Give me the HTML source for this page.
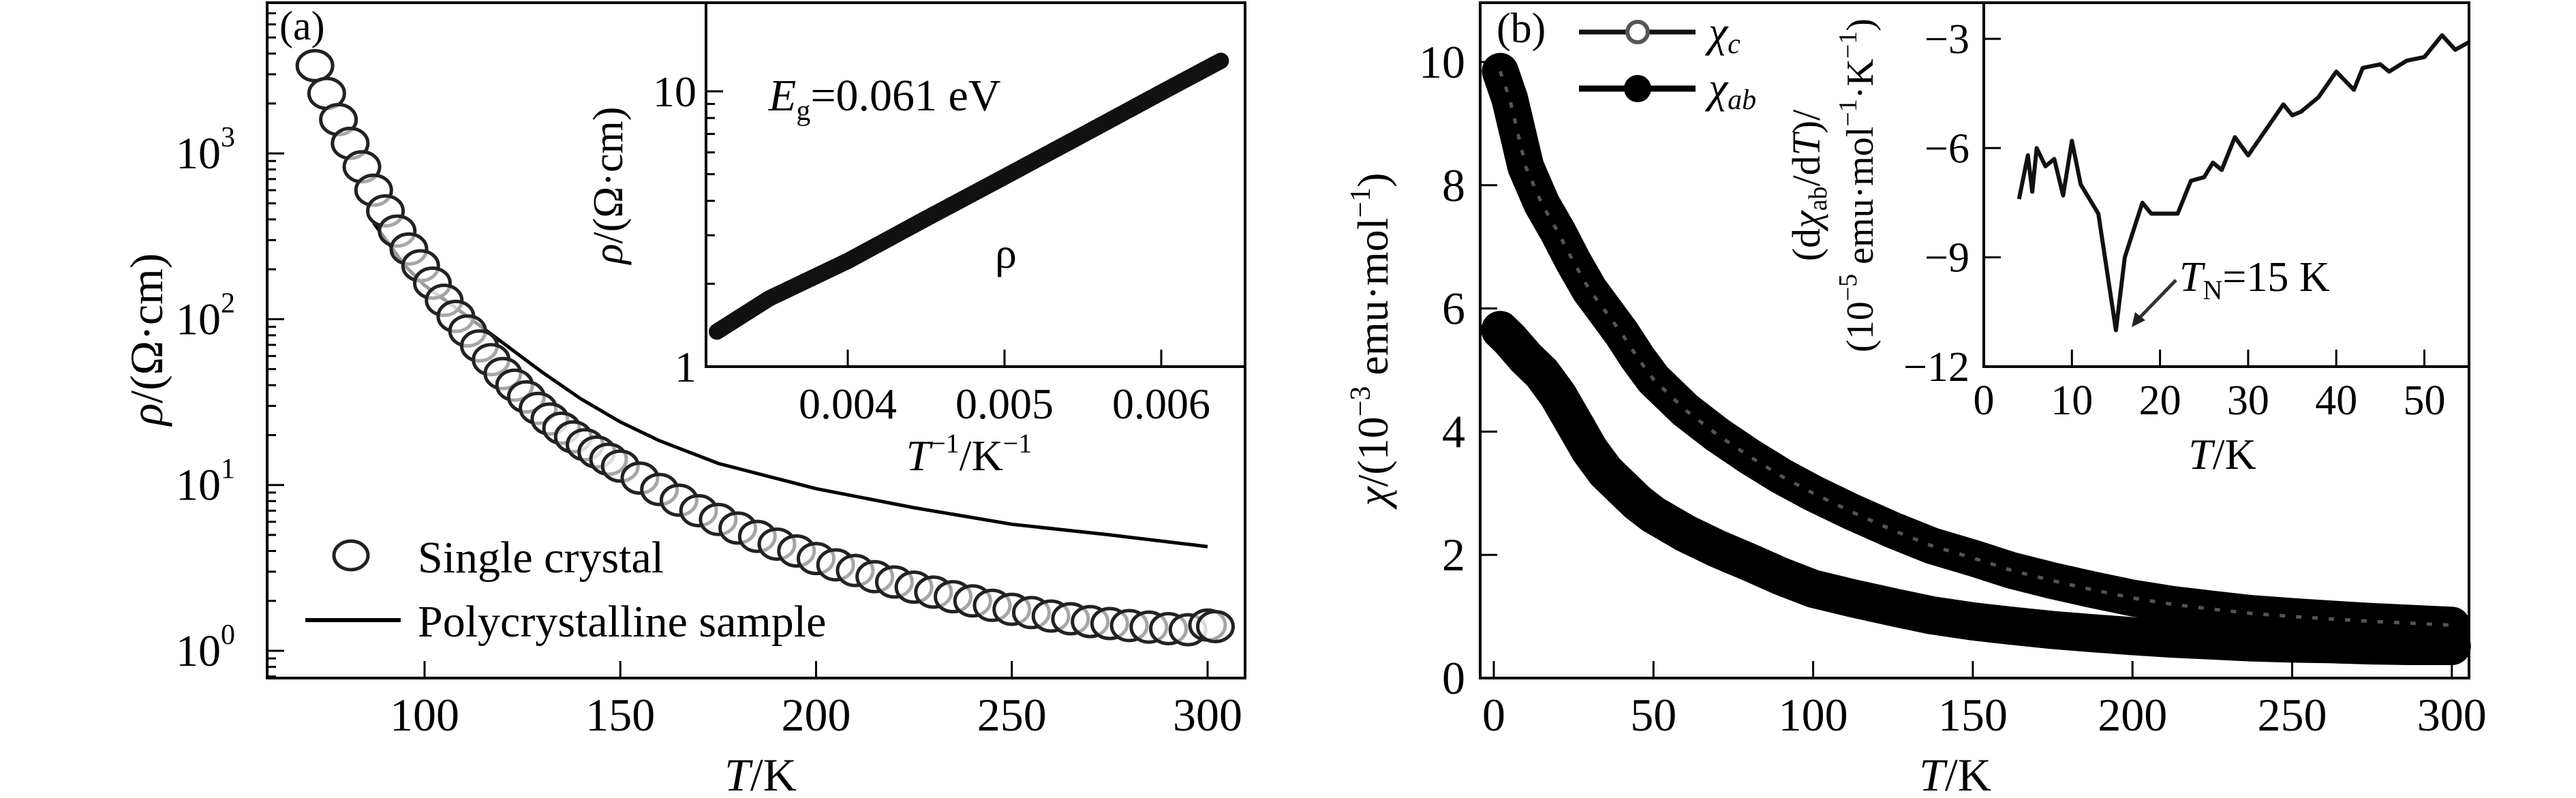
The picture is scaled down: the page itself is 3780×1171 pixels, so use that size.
<!DOCTYPE html>
<html><head><meta charset="utf-8"><style>
html,body{margin:0;padding:0;background:#fff}
svg{display:block}
text{font-family:"Liberation Serif",serif;fill:#000}
</style></head><body>
<svg id="fig" width="3780" height="1171" viewBox="0 0 3780 1171" xmlns="http://www.w3.org/2000/svg">
<g id="gA"></g>
<g id="gAi"></g>
<g id="gB"></g>
<g id="gBi"></g>
</svg>
<script>
// Panel a data
const crystalT=[72,75,78,81,84,87,90,93,96,99,102,105,108,111,114,117,120,123,126,129,132,135,138,141,144,147,150,155,160,165,170,175,180,185,190,195,200,205,210,215,220,225,230,235,240,245,250,255,260,265,270,275,280,285,290,295,300,302];
const crystalRho=[3380,2300,1600,1150,830,600,450,340,265,210,165,130,104,85,69,57,47,40,34,29,25,22,19.5,17.5,15.8,14.3,13,11,9.4,8.1,7,6.2,5.5,4.9,4.4,4.0,3.6,3.3,3.05,2.8,2.6,2.42,2.26,2.12,2.0,1.88,1.78,1.7,1.62,1.56,1.5,1.46,1.42,1.39,1.36,1.34,1.43,1.40];
const polyT=[87,95,100,110,120,130,140,150,160,175,200,225,250,275,300];
const polyRho=[380,210,160,108,72,48,33,24,18.5,13.5,9.5,7.3,5.8,5.0,4.25];
const aXTicks=[100,150,200,250,300];
const aYTicks=[0,1,2,3];
// Panel a inset
const insetInvT=[0.003165,0.0035,0.004,0.0045,0.005,0.0055,0.006,0.00638];
const insetRho=[1.34,1.77,2.42,3.45,4.89,6.95,9.9,12.9];
const aiXTicks=[0.004,0.005,0.006];
// Panel b
const chiT=[2,5,10,15,20,25,30,35,40,45,50,60,70,80,90,100,112,125,137,150,162,175,187,200,212,225,237,250,262,275,287,300];
const chiC=[9.85,9.4,8.3,7.7,7.25,6.75,6.3,5.95,5.6,5.2,4.85,4.35,3.95,3.6,3.28,3.0,2.7,2.4,2.15,1.95,1.75,1.58,1.44,1.3,1.2,1.12,1.05,1.0,0.96,0.92,0.89,0.86];
const chiAB=[5.65,5.5,5.2,4.95,4.6,4.15,3.7,3.35,3.1,2.85,2.65,2.35,2.1,1.88,1.65,1.45,1.3,1.15,1.02,0.92,0.85,0.78,0.73,0.68,0.64,0.61,0.58,0.56,0.55,0.53,0.52,0.52];
const bXTicks=[0,50,100,150,200,250,300];
const bYTicks=[0,2,4,6,8,10];
// Panel b inset
const dT=[4,5,5.5,6,7,8,9,10,11,13,15,16,18,19,22,23.5,25,26,27,28.5,30,32,34,35,36,38,40,42,43,45,46,48,50,52,53.5,55];
const dChi=[-7.4,-6.2,-7.2,-6,-6.5,-6.3,-7.3,-5.8,-7,-7.8,-11,-9,-7.5,-7.8,-7.8,-6.9,-6.8,-6.4,-6.6,-5.7,-6.2,-5.5,-4.8,-5.1,-5,-4.6,-3.9,-4.4,-3.8,-3.7,-3.9,-3.6,-3.5,-2.9,-3.3,-3.1];
const biXTicks=[0,10,20,30,40,50];
const biYTicks=[-3,-6,-9,-12];

const NS="http://www.w3.org/2000/svg";
function mk(parent,tag,attrs,txt){const e=document.createElementNS(NS,tag);for(const k in attrs)e.setAttribute(k,attrs[k]);if(txt!==undefined)e.innerHTML=txt;parent.appendChild(e);return e;}

// ---------- Panel A ----------
const gA=document.getElementById('gA');
const ax=t=>623+(t-100)/50*287.25;
const ay=r=>955-Math.log10(r)*243.3;
const aFrame=mk(gA,'rect',{x:392,y:4,width:1435,height:991,fill:'none',stroke:'#000','stroke-width':4});


aXTicks.forEach(t=>{
  const l=mk(gA,'line',{x1:ax(t),x2:ax(t),y1:995,y2:970,stroke:'#000','stroke-width':3});
  
  
  const tx=mk(gA,'text',{x:ax(t),y:1072,'font-size':68,'text-anchor':'middle'},String(t));
  
  
});
for(let d=-1;d<=3;d++){for(let m=1;m<10;m++){const v=Math.pow(10,d)*m;const y=ay(v);if(y<6||y>993)continue;
  const l=mk(gA,'line',{x1:392,x2:392+(m===1?25:13),y1:y,y2:y,stroke:'#000','stroke-width':3});
  
  }}
aYTicks.forEach(p=>{
  const tx=mk(gA,'text',{x:345,y:ay(Math.pow(10,p))+22,'font-size':66,'text-anchor':'end'},'10<tspan font-size="42" dy="-32">'+p+'</tspan>');
  
  
});
let pd='';polyT.forEach((t,i)=>{pd+=(i?'L':'M')+ax(t).toFixed(1)+','+ay(polyRho[i]).toFixed(1);});
const pl=mk(gA,'path',{d:pd,fill:'none',stroke:'#000','stroke-width':5});


crystalT.forEach((t,i)=>{
  const c=mk(gA,'ellipse',{cx:ax(t),cy:ay(crystalRho[i]),rx:26,ry:22,fill:'#fff','fill-opacity':0.6,stroke:'#222','stroke-width':5});
  
  
});
let t;
t=mk(gA,'text',{x:410,y:58,'font-size':60},'(a)');
t=mk(gA,'ellipse',{cx:515,cy:815,rx:25,ry:21,fill:'#fff',stroke:'#222','stroke-width':5});
t=mk(gA,'text',{x:613,y:840,'font-size':66},'Single crystal');
t=mk(gA,'line',{x1:448,x2:588,y1:910,y2:910,stroke:'#000','stroke-width':6});
t=mk(gA,'text',{x:613,y:934,'font-size':66},'Polycrystalline sample');
t=mk(gA,'text',{x:0,y:0,'font-size':68,'text-anchor':'middle',transform:'translate(238,498) rotate(-90)'},'<tspan font-style="italic">ρ</tspan>/(Ω·cm)');
t=mk(gA,'text',{x:1116,y:1160,'font-size':68,'text-anchor':'middle'},'<tspan font-style="italic">T</tspan>/K');

// ---------- Panel A inset ----------
const gAi=document.getElementById('gAi');
const ix=v=>1244+(v-0.004)/0.001*230;
const iy=r=>538-Math.log10(r)*404;
t=mk(gAi,'rect',{x:1036,y:4,width:791,height:534,fill:'#fff',stroke:'#000','stroke-width':4});
aiXTicks.forEach(v=>{
  const l=mk(gAi,'line',{x1:ix(v),x2:ix(v),y1:538,y2:513,stroke:'#000','stroke-width':3});
  
  
  const tx=mk(gAi,'text',{x:ix(v),y:614,'font-size':64,'text-anchor':'middle'},v.toFixed(3));
  
  
});
for(let m=2;m<=10;m++){const y=iy(m);const l=mk(gAi,'line',{x1:1036,x2:1036+(m===10?25:13),y1:y,y2:y,stroke:'#000','stroke-width':3});
  
  }
[[1,'1'],[10,'10']].forEach(p=>{const tx=mk(gAi,'text',{x:1022,y:iy(p[0])+22,'font-size':64,'text-anchor':'end'},p[1]);
  
  });
let ipd='';insetInvT.forEach((v,i)=>{ipd+=(i?'L':'M')+ix(v).toFixed(1)+','+iy(insetRho[i]).toFixed(1);});
t=mk(gAi,'path',{d:ipd,fill:'none',stroke:'#111','stroke-width':24,'stroke-linecap':'round'});
t=mk(gAi,'text',{x:1128,y:162,'font-size':66},'<tspan font-style="italic">E</tspan><tspan font-size="42" dy="14">g</tspan><tspan dy="-14">=0.061 eV</tspan>');
t=mk(gAi,'text',{x:1460,y:393,'font-size':64},'ρ');
t=mk(gAi,'text',{x:0,y:0,'font-size':62,'text-anchor':'middle',transform:'translate(913,272) rotate(-90)'},'<tspan font-style="italic">ρ</tspan>/(Ω·cm)');
t=mk(gAi,'text',{x:1422,y:690,'font-size':64,'text-anchor':'middle'},'<tspan font-style="italic">T</tspan><tspan font-size="40" dy="-26">−1</tspan><tspan dy="26">/K</tspan><tspan font-size="40" dy="-26">−1</tspan>');

// ---------- Panel B ----------
const gB=document.getElementById('gB');
const bx=v=>2192+v/50*234.3;
const by=v=>995-v*90.4;
t=mk(gB,'rect',{x:2172,y:4,width:1451,height:991,fill:'none',stroke:'#000','stroke-width':4});
bXTicks.forEach(v=>{
  const l=mk(gB,'line',{x1:bx(v),x2:bx(v),y1:995,y2:970,stroke:'#000','stroke-width':3});
  
  
  const tx=mk(gB,'text',{x:bx(v),y:1072,'font-size':68,'text-anchor':'middle'},String(v));
  
  
});
bYTicks.forEach(v=>{
  const l=mk(gB,'line',{x1:2172,x2:2197,y1:by(v),y2:by(v),stroke:'#000','stroke-width':3});
  
  
  const tx=mk(gB,'text',{x:2150,y:by(v)+23,'font-size':68,'text-anchor':'end'},String(v));
  
  
});
function pathOf(xs,ys,fx,fy){let s='';xs.forEach((v,i)=>{s+=(i?'L':'M')+fx(v).toFixed(1)+','+fy(ys[i]).toFixed(1);});return s;}
t=mk(gB,'path',{d:pathOf(chiT,chiAB,bx,by),fill:'none',stroke:'#000','stroke-width':56,'stroke-linecap':'round','stroke-linejoin':'round'});
chiT.forEach((v,i)=>{const c=mk(gB,'circle',{cx:bx(v),cy:by(chiAB[i]),r:26,fill:'#000'});
  
  });
t=mk(gB,'path',{d:pathOf(chiT,chiC,bx,by),fill:'none',stroke:'#000','stroke-width':54,'stroke-linecap':'round','stroke-linejoin':'round'});
t=mk(gB,'path',{d:pathOf(chiT,chiC,bx,by),fill:'none',stroke:'#555','stroke-width':5,'stroke-dasharray':'8 16'});
t=mk(gB,'text',{x:2196,y:62,'font-size':62},'(b)');
t=mk(gB,'line',{x1:2317,x2:2488,y1:47,y2:47,stroke:'#111','stroke-width':7});
t=mk(gB,'circle',{cx:2403,cy:47,r:15,fill:'#fff',stroke:'#555','stroke-width':6});
t=mk(gB,'text',{x:2507,y:68,'font-size':64,'font-style':'italic'},'χ<tspan font-size="42" dy="10">c</tspan>');
t=mk(gB,'line',{x1:2317,x2:2488,y1:130,y2:130,stroke:'#000','stroke-width':9});
t=mk(gB,'circle',{cx:2403,cy:130,r:20,fill:'#000'});
t=mk(gB,'text',{x:2507,y:150,'font-size':64,'font-style':'italic'},'χ<tspan font-size="42" dy="10">ab</tspan>');
t=mk(gB,'text',{x:0,y:0,'font-size':64,'text-anchor':'middle',transform:'translate(2036,498) rotate(-90)'},'<tspan font-style="italic">χ</tspan>/(10<tspan font-size="42" dy="-26">−3</tspan><tspan dy="26"> emu·mol</tspan><tspan font-size="42" dy="-26">−1</tspan><tspan dy="26">)</tspan>');
t=mk(gB,'text',{x:2869,y:1160,'font-size':68,'text-anchor':'middle'},'<tspan font-style="italic">T</tspan>/K');

// ---------- Panel B inset ----------
const gBi=document.getElementById('gBi');
const jx=v=>2911+v/10*129.3;
const jy=v=>57+(-3-v)/3*160.3;
t=mk(gBi,'rect',{x:2911,y:4,width:712,height:534,fill:'#fff',stroke:'#000','stroke-width':4});
biXTicks.forEach(v=>{
  const l=mk(gBi,'line',{x1:jx(v),x2:jx(v),y1:538,y2:513,stroke:'#000','stroke-width':3});
  
  
  const tx=mk(gBi,'text',{x:jx(v),y:608,'font-size':62,'text-anchor':'middle'},String(v));
  
  
});
biYTicks.forEach(v=>{
  const l=mk(gBi,'line',{x1:2911,x2:2936,y1:jy(v),y2:jy(v),stroke:'#000','stroke-width':3});
  
  
  const tx=mk(gBi,'text',{x:2890,y:jy(v)+21,'font-size':62,'text-anchor':'end'},'−'+Math.abs(v));
  
  
});
t=mk(gBi,'path',{d:pathOf(dT,dChi,jx,jy),fill:'none',stroke:'#111','stroke-width':6,'stroke-linejoin':'round'});
t=mk(gBi,'line',{x1:3193,y1:411,x2:3134,y2:472,stroke:'#333','stroke-width':5});
t=mk(gBi,'path',{d:'M3128,480 L3133,458 L3148,470 Z',fill:'#222'});
t=mk(gBi,'text',{x:3198,y:427,'font-size':62},'<tspan font-style="italic">T</tspan><tspan font-size="40" dy="12">N</tspan><tspan dy="-12">=15 K</tspan>');
t=mk(gBi,'text',{x:0,y:0,'font-size':58,'text-anchor':'middle',transform:'translate(2670,272) rotate(-90)'},'(d<tspan font-style="italic">χ</tspan><tspan font-size="38" dy="10">ab</tspan><tspan dy="-10">/d</tspan><tspan font-style="italic">T</tspan>)/');
t=mk(gBi,'text',{x:0,y:0,'font-size':56,'text-anchor':'middle',transform:'translate(2748,272) rotate(-90)'},'(10<tspan font-size="38" dy="-24">−5</tspan><tspan dy="24"> emu·mol</tspan><tspan font-size="38" dy="-24">−1</tspan><tspan dy="24">·K</tspan><tspan font-size="38" dy="-24">−1</tspan><tspan dy="24">)</tspan>');
t=mk(gBi,'text',{x:3261,y:688,'font-size':64,'text-anchor':'middle'},'<tspan font-style="italic">T</tspan>/K');
</script>
</body></html>
